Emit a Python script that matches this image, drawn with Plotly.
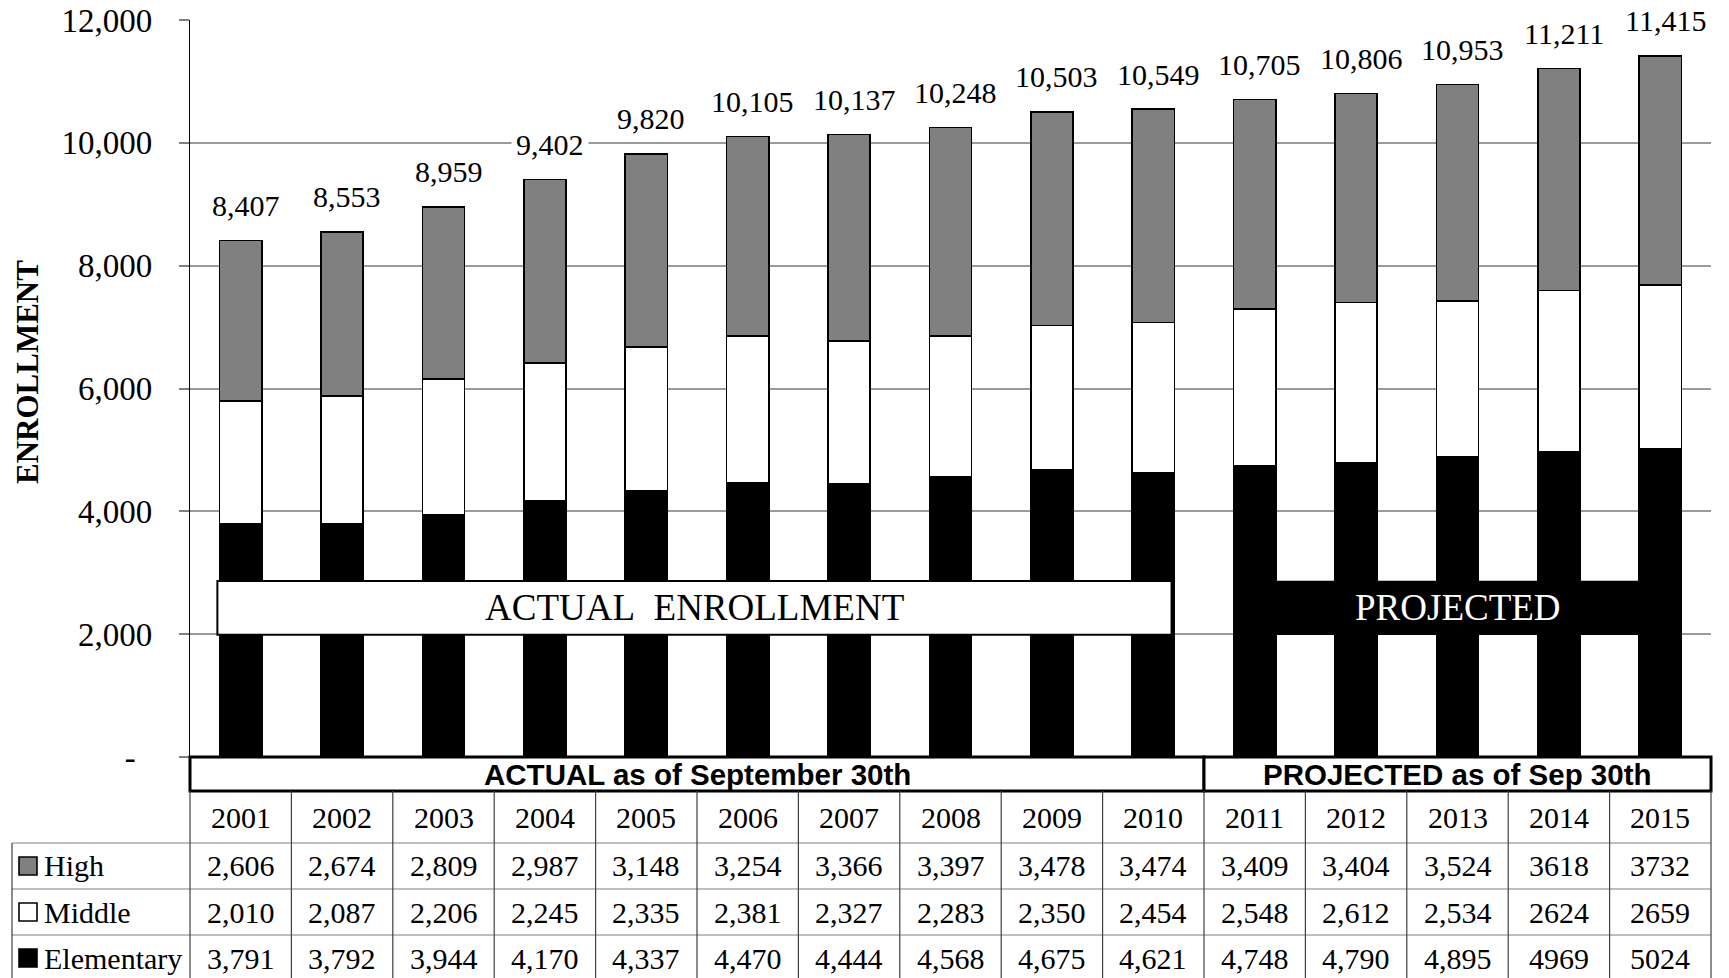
import plotly.graph_objects as go

years = ["2001", "2002", "2003", "2004", "2005", "2006", "2007", "2008",
         "2009", "2010", "2011", "2012", "2013", "2014", "2015"]
high = [2606, 2674, 2809, 2987, 3148, 3254, 3366, 3397, 3478, 3474, 3409, 3404, 3524, 3618, 3732]
middle = [2010, 2087, 2206, 2245, 2335, 2381, 2327, 2283, 2350, 2454, 2548, 2612, 2534, 2624, 2659]
elementary = [3791, 3792, 3944, 4170, 4337, 4470, 4444, 4568, 4675, 4621, 4748, 4790, 4895, 4969, 5024]
totals = [8407, 8553, 8959, 9402, 9820, 10105, 10137, 10248, 10503, 10549, 10705, 10806, 10953, 11211, 11415]
# columns printed without thousands separator in the data table
plain_cols = ["2014", "2015"]
y_ticks = [0, 2000, 4000, 6000, 8000, 10000, 12000]
n_actual = 10  # 2001-2010 actual, 2011-2015 projected

W, H = 1729, 978
OFF = 8  # page body margin of the html page
L, R, T, B = 190, 1711, 20, 757  # plot area in screen pixels
SERIF = "Liberation Serif"
SANS = "Liberation Sans"
FS = 30
n = len(years)
xs = list(range(n))
BW = 0.415


def py(p):
    return (B - p) / (B - T)


def px(p):
    return (p - L) / (R - L)


def cx(i):
    return (i + 0.5) / n


def fmt(v, col):
    return str(v) if col in plain_cols else f"{v:,}"


def text_ann(x, y, text, xref="paper", yref="paper", size=FS, family=SERIF,
             color="black", xanchor="center", **kw):
    d = dict(x=x, y=y, xref=xref, yref=yref, text=text, showarrow=False,
             xanchor=xanchor, yanchor="middle",
             font=dict(family=family, size=size, color=color))
    d.update(kw)
    return d


fig = go.Figure()
for name, vals, color in [("Elementary", elementary, "#000000"),
                          ("Middle", middle, "#FFFFFF"),
                          ("High", high, "#808080")]:
    fig.add_trace(go.Bar(x=xs, y=vals, name=name, width=BW,
                         marker=dict(color=color, line=dict(color="#000000", width=1.6)),
                         hoverinfo="skip"))

ann = []
shapes = []

# total labels
for i, t in enumerate(totals):
    ann.append(text_ann(i, t, f"{t:,}", xref="x", yref="y", yshift=35, xshift=5,
                        bgcolor="white", borderpad=4))

# Annotation boxes inside the plot
ax0, ax1 = -0.23, n_actual - 1 + 0.18
shapes.append(dict(type="rect", xref="x", yref="y", x0=ax0, x1=ax1, y0=1990, y1=2865,
                   fillcolor="white", line=dict(color="black", width=2), layer="above"))
ann.append(text_ann((ax0 + ax1) / 2, (1990 + 2865) / 2, "ACTUAL\u00a0 ENROLLMENT",
                    xref="x", yref="y", size=37))
px0, px1 = n_actual - BW / 2, n - 1 + BW / 2
shapes.append(dict(type="rect", xref="x", yref="y", x0=px0, x1=px1, y0=1985, y1=2870,
                   fillcolor="black", line=dict(color="black", width=0), layer="above"))
ann.append(text_ann((px0 + px1) / 2, (1985 + 2870) / 2, "PROJECTED",
                    xref="x", yref="y", size=37, color="white"))

# Header boxes
hy0, hy1 = py(791), py(757)
for a, b, label in [(0, n_actual / n, "ACTUAL as of September 30th"),
                    (n_actual / n, 1, "PROJECTED as of Sep 30th")]:
    shapes.append(dict(type="rect", xref="paper", yref="paper", x0=a, x1=b, y0=hy0, y1=hy1,
                       fillcolor="white", line=dict(color="black", width=3), layer="above"))
    ann.append(text_ann((a + b) / 2, (hy0 + hy1) / 2, f"<b>{label}</b>",
                        family=SANS, size=29.5))

# table grid
row_edges = [791, 843, 889, 935, 981]
for yy in row_edges[1:4]:
    shapes.append(dict(type="line", xref="paper", yref="paper", x0=px(12), x1=1,
                       y0=py(yy), y1=py(yy), line=dict(color="#7f7f7f", width=1.2)))
shapes.append(dict(type="line", xref="paper", yref="paper", x0=px(12), x1=1,
                   y0=py(981), y1=py(981), line=dict(color="#404040", width=1.2)))
for k in range(n + 1):
    shapes.append(dict(type="line", xref="paper", yref="paper", x0=cx(k - 0.5), x1=cx(k - 0.5),
                       y0=py(791), y1=py(990), line=dict(color="#404040", width=1.2)))
shapes.append(dict(type="line", xref="paper", yref="paper", x0=px(12), x1=px(12),
                   y0=py(843), y1=py(990), line=dict(color="#404040", width=1.2)))

# table text
row_c = [(a + b) / 2 for a, b in zip(row_edges[:-1], row_edges[1:])]
for i, yr in enumerate(years):
    ann.append(text_ann(i, py(row_c[0]), yr, xref="x"))
    for r, vals in zip(row_c[1:], [high, middle, elementary]):
        ann.append(text_ann(i, py(r), fmt(vals[i], yr), xref="x"))

# legend column
for r, name, color in zip(row_c[1:], ["High", "Middle", "Elementary"],
                          ["#808080", "#FFFFFF", "#000000"]):
    shapes.append(dict(type="rect", xref="paper", yref="paper", x0=px(19), x1=px(37),
                       y0=py(r + 9), y1=py(r - 9), fillcolor=color,
                       line=dict(color="black", width=1.6)))
    ann.append(text_ann(px(42), py(r), name, xanchor="left"))

# y axis title
ann.append(text_ann(px(27), py(372), "<b>ENROLLMENT</b>", textangle=-90, size=31))

tick_text = ["-\u00a0\u00a0" if v == 0 else f"{v:,}" for v in y_ticks]

fig.update_layout(
    width=W, height=H,
    margin=dict(l=L - OFF, r=W - (R - OFF), t=T - OFF, b=H - (B - OFF), pad=0,
                autoexpand=False),
    paper_bgcolor="white", plot_bgcolor="white",
    barmode="stack", showlegend=False,
    xaxis=dict(range=[-0.5, n - 0.5], showticklabels=False, showgrid=False,
               zeroline=False, showline=False, ticks="", automargin=False),
    yaxis=dict(range=[0, 12000], tickvals=y_ticks, ticktext=tick_text,
               showgrid=True, gridcolor="#9a9a9a", gridwidth=1.5,
               zeroline=False, showline=True, linecolor="black", linewidth=1.2,
               ticks="outside", ticklen=10, tickcolor="#808080", tickwidth=1.5,
               ticklabelstandoff=20, automargin=False, ticklabeloverflow="allow",
               tickfont=dict(family=SERIF, size=33, color="black")),
    annotations=ann, shapes=shapes,
)

fig.write_html("out.html")
